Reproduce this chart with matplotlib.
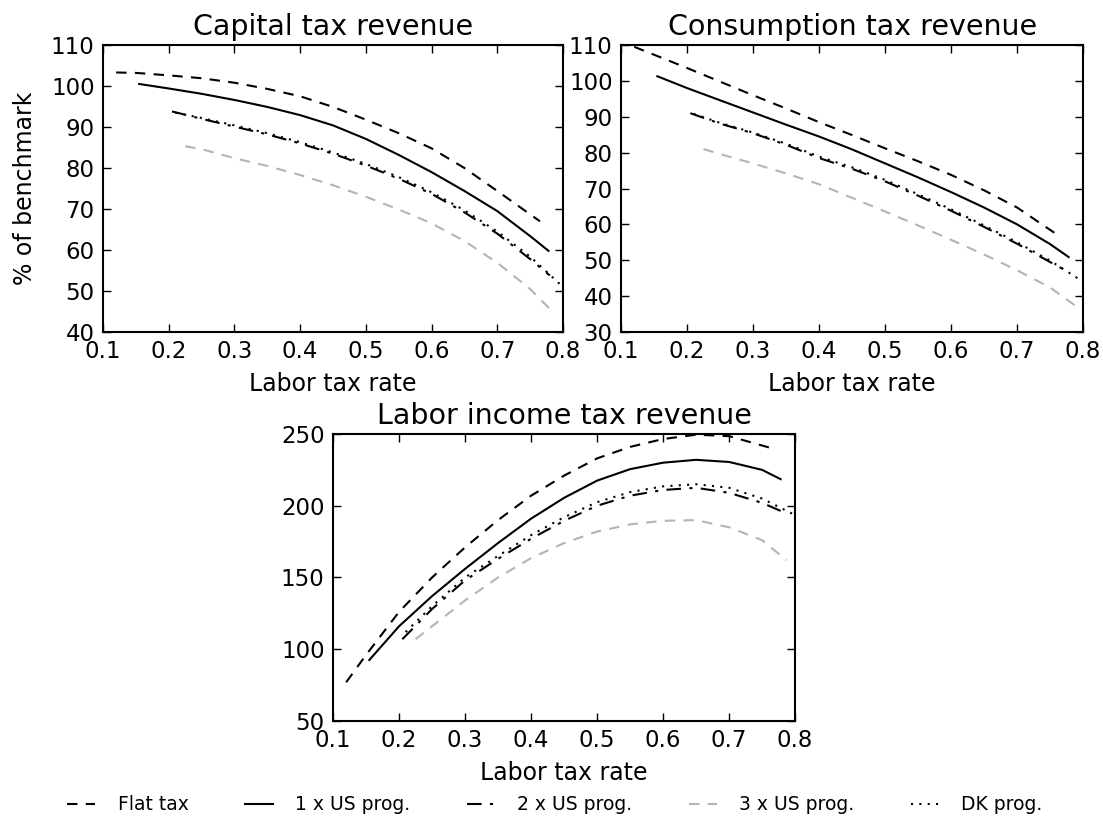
import matplotlib
matplotlib.use("Agg")
import matplotlib.pyplot as plt

# ---------------- data ----------------
flat_x = [0.12, 0.15, 0.2, 0.25, 0.3, 0.35, 0.4, 0.45, 0.5, 0.55, 0.6, 0.65, 0.7, 0.765]
us1_x = [0.155, 0.2, 0.25, 0.3, 0.35, 0.4, 0.45, 0.5, 0.55, 0.6, 0.65, 0.7, 0.75, 0.778]
us2_x = [0.205, 0.25, 0.3, 0.35, 0.4, 0.45, 0.5, 0.55, 0.6, 0.65, 0.7, 0.75, 0.78]
us3_x = [0.225, 0.25, 0.3, 0.35, 0.4, 0.45, 0.5, 0.55, 0.6, 0.65, 0.7, 0.75, 0.787]
dk_x = [0.21, 0.25, 0.3, 0.35, 0.4, 0.45, 0.5, 0.55, 0.6, 0.65, 0.7, 0.75, 0.8]

cap_flat = [103.3, 103.2, 102.6, 101.9, 100.8, 99.3, 97.5, 94.9, 91.8, 88.5, 84.8, 80.0, 74.4, 67.0]
cap_us1 = [100.5, 99.4, 98.1, 96.6, 94.9, 92.9, 90.4, 87.1, 83.2, 79.0, 74.4, 69.5, 63.4, 59.8]
cap_us2 = [93.8, 92.0, 90.1, 88.2, 86.0, 83.5, 80.6, 77.4, 73.7, 69.2, 64.0, 57.8, 53.8]
cap_us3 = [85.3, 84.6, 82.4, 80.5, 78.3, 75.8, 73.0, 69.9, 66.5, 62.2, 56.9, 50.5, 44.5]
cap_dk = [93.5, 92.2, 90.4, 88.5, 86.3, 83.8, 81.0, 77.8, 74.1, 69.7, 64.5, 58.4, 51.0]

con_flat = [109.5, 107.3, 103.6, 99.8, 96.0, 92.3, 88.5, 84.9, 81.2, 77.6, 73.8, 69.5, 64.7, 56.6]
con_us1 = [101.3, 98.0, 94.6, 91.2, 87.8, 84.5, 80.9, 77.0, 73.1, 69.0, 64.7, 60.0, 54.5, 50.9]
con_us2 = [91.0, 88.1, 85.4, 82.2, 78.5, 75.5, 72.0, 68.0, 63.8, 59.3, 54.6, 49.5, 46.5]
con_us3 = [81.0, 79.6, 77.0, 74.2, 71.2, 67.4, 63.6, 59.7, 55.7, 51.6, 47.2, 42.4, 37.5]
con_dk = [90.8, 88.3, 85.6, 82.5, 78.9, 75.9, 72.4, 68.4, 64.2, 59.7, 55.0, 49.9, 44.0]

lab_flat = [77, 96, 126, 150, 171, 190, 207, 221, 233, 241, 246.5, 249.5, 248.5, 240]
lab_us1 = [92.5, 116, 137, 156, 174, 191, 205.5, 217.5, 225.5, 230, 232, 230.5, 225, 218.5]
lab_us2 = [107, 128, 148, 163, 177, 189.5, 200, 207, 211, 212.5, 209, 202, 196]
lab_us3 = [107, 116, 134, 150, 163.5, 174, 182, 187, 189.5, 190, 185, 176, 162]
lab_dk = [112, 130, 150, 165, 179.5, 192, 202.5, 209.5, 213.5, 215, 212.5, 205, 193.5]

series_labels = ["Flat tax", "1 x US prog.", "2 x US prog.", "3 x US prog.", "DK prog."]
panel_titles = ["Capital tax revenue", "Consumption tax revenue", "Labor income tax revenue"]
x_label = "Labor tax rate"
y_label = "% of benchmark"
x_ticks = [0.1, 0.2, 0.3, 0.4, 0.5, 0.6, 0.7, 0.8]

# ---------------- styling ----------------
plt.rcParams["font.family"] = ["DejaVu Sans"]
styles = [
    dict(color="black", linestyle=(0, (5, 4))),
    dict(color="black", linestyle="-"),
    dict(color="black", linestyle=(0, (7, 4, 1.5, 4))),
    dict(color="#b4b4b4", linestyle=(0, (5, 4))),
    dict(color="black", linestyle=(0, (1, 3))),
]
xs = [flat_x, us1_x, us2_x, us3_x, dk_x]

fig = plt.figure(figsize=(11.03, 8.17), dpi=100)
ax1 = fig.add_axes([0.0934, 0.5936, 0.417, 0.3513])
ax2 = fig.add_axes([0.563, 0.5936, 0.419, 0.3513])
ax3 = fig.add_axes([0.3019, 0.1175, 0.419, 0.3513])

panels = [
    (ax1, [cap_flat, cap_us1, cap_us2, cap_us3, cap_dk], (40, 110), list(range(40, 111, 10))),
    (ax2, [con_flat, con_us1, con_us2, con_us3, con_dk], (30, 110), list(range(30, 111, 10))),
    (ax3, [lab_flat, lab_us1, lab_us2, lab_us3, lab_dk], (50, 250), list(range(50, 251, 50))),
]

handles = []
for i, (ax, ys, ylim, yt) in enumerate(panels):
    hs = []
    for x, y, st, lab in zip(xs, ys, styles, series_labels):
        h, = ax.plot(x, y, linewidth=1.5, label=lab, **st)
        hs.append(h)
    if i == 0:
        handles = hs
    ax.set_xlim(0.1, 0.8)
    ax.set_ylim(*ylim)
    ax.set_xticks(x_ticks)
    ax.set_yticks(yt)
    ax.tick_params(direction="in", top=True, right=True, length=6, width=1,
                   labelsize=16.5, pad=6)
    for sp in ax.spines.values():
        sp.set_linewidth(1.5)
    ax.set_title(panel_titles[i], fontsize=20.5, pad=7)
    ax.set_xlabel(x_label, fontsize=17, labelpad=6)

ax1.set_ylabel(y_label, fontsize=17, labelpad=10)

fig.legend(handles=handles, labels=series_labels, loc="center",
           bbox_to_anchor=(0.503, 1 - 805 / 817), ncol=5, frameon=False, fontsize=13.5,
           handlelength=1.5, columnspacing=3.0, handletextpad=1.2)

fig.savefig("out.png", dpi=100, facecolor="white")
